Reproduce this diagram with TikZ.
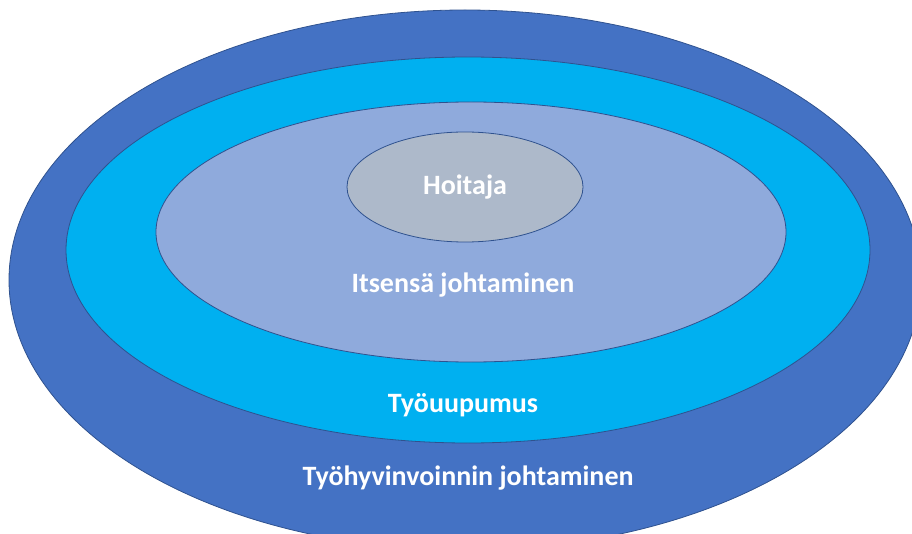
\documentclass[tikz,border=0pt]{standalone}
\usepackage{fontspec}
\setmainfont{Carlito}
\usetikzlibrary{shapes.geometric}
\definecolor{outerblue}{HTML}{4472C4}
\definecolor{burnoutcyan}{HTML}{00B0F0}
\definecolor{selfblue}{HTML}{8FAADC}
\definecolor{nursegrey}{HTML}{ADB9CA}
\definecolor{rimblue}{HTML}{2F528F}

\begin{document}
\begin{tikzpicture}[
  x=0.75pt, y=-0.75pt,
  ring/.style={ellipse, draw=rimblue, line width=0.6pt, inner sep=0pt},
  lbl/.style={text=white, font=\fontsize{21}{25}\selectfont\bfseries},
]
\useasboundingbox (0,0) rectangle (912,534);
\clip (0,0) rectangle (912,534);

% ---- Rings, outer to inner ----
\node[ring, fill=outerblue, minimum width=684pt, minimum height=405pt]
  (wellbeing) at (465, 280) {};
\node[ring, fill=burnoutcyan, minimum width=603pt, minimum height=289.5pt]
  (burnout) at (468, 250) {};
\node[ring, fill=selfblue, minimum width=472.5pt, minimum height=195pt]
  (selflead) at (471, 232) {};
\node[ring, fill=nursegrey, minimum width=177pt, minimum height=82.5pt]
  (nurse) at (465, 187) {};

% ---- Labels ----
\node[lbl] (nurselbl) at (nurse) {Hoitaja};
\node[lbl] (selflbl) at (463, 285) {Itsensä johtaminen};
\node[lbl] (burnoutlbl) at (463, 405) {Työuupumus};
\node[lbl] (wellbeinglbl) at (468, 478) {Työhyvinvoinnin johtaminen};

\end{tikzpicture}
\end{document}
